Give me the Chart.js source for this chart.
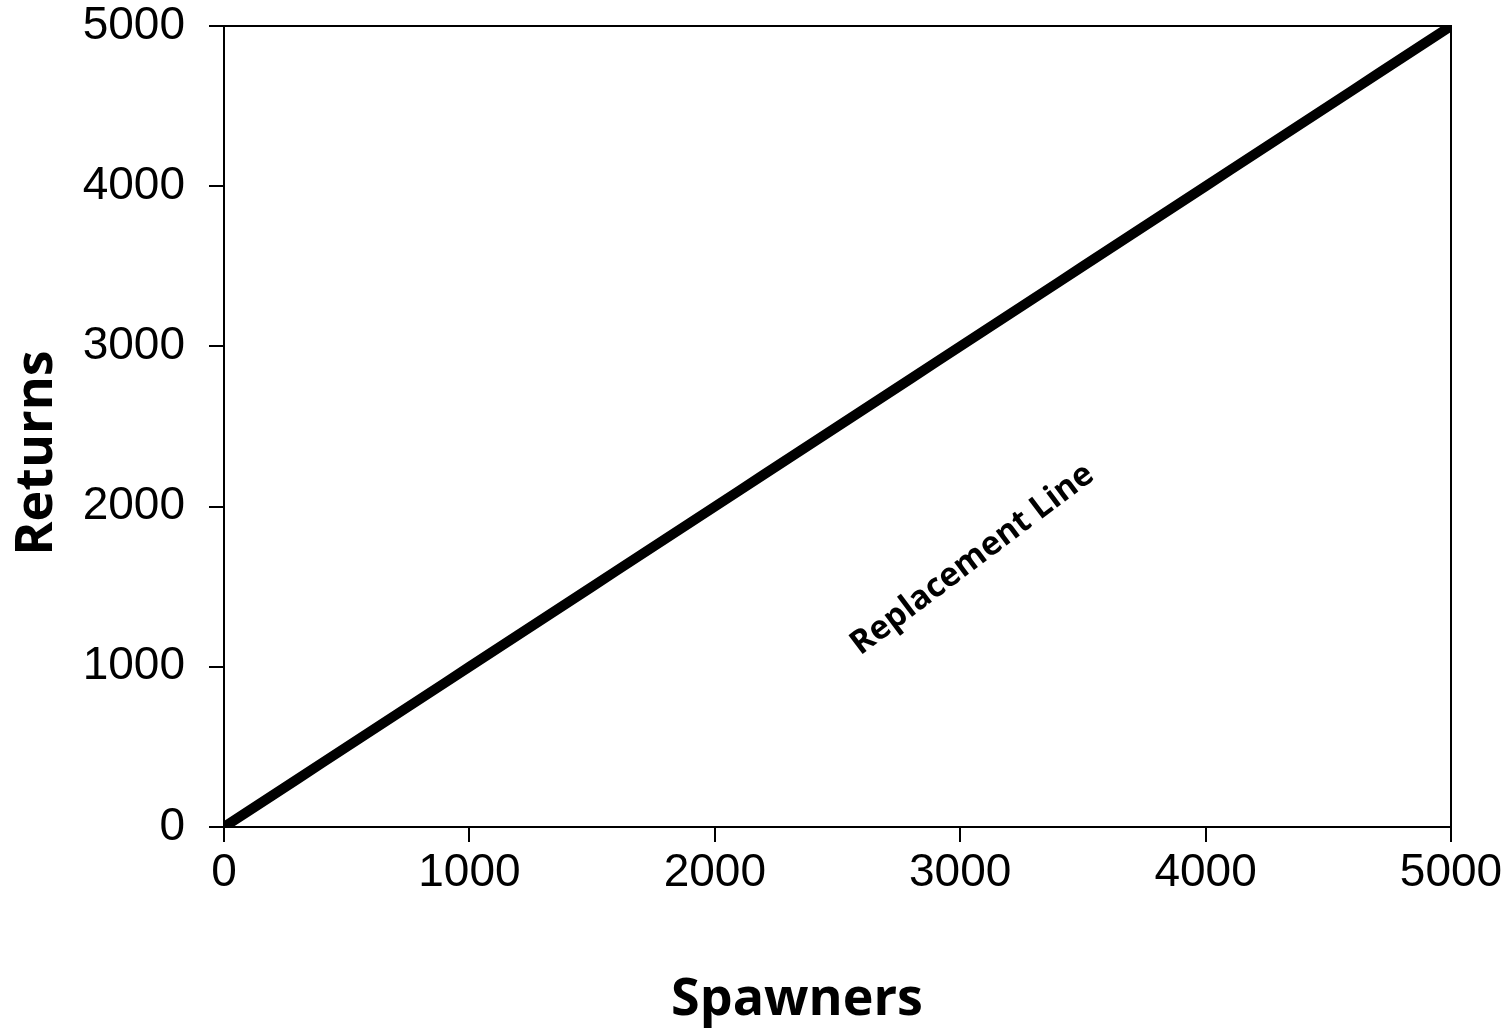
<!DOCTYPE html>
<html>
<head>
<meta charset="utf-8">
<script src="https://cdn.jsdelivr.net/npm/chart.js@4/dist/chart.umd.min.js"></script>
<style>
  html, body { margin: 0; padding: 0; background: #fff; }
  #wrap { width: 1510px; height: 1029px; }
</style>
</head>
<body>
<div id="wrap"><canvas id="c" width="1510" height="1029"></canvas></div>
<script>
const spawners = [0,100,200,300,400,500,600,700,800,900,1000,1100,1200,1300,1400,1500,1600,1700,1800,1900,2000,2100,2200,2300,2400,2500,2600,2700,2800,2900,3000,3100,3200,3300,3400,3500,3600,3700,3800,3900,4000,4100,4200,4300,4400,4500,4600,4700,4800,4900,5000];
const returns  = [0,100,200,300,400,500,600,700,800,900,1000,1100,1200,1300,1400,1500,1600,1700,1800,1900,2000,2100,2200,2300,2400,2500,2600,2700,2800,2900,3000,3100,3200,3300,3400,3500,3600,3700,3800,3900,4000,4100,4200,4300,4400,4500,4600,4700,4800,4900,5000];
const xTitle = "Spawners";
const yTitle = "Returns";
const lineLabel = "Replacement Line";
const labelAt = { x: 3050, y: 1670 };
const axisMin = 0, axisMax = 5000, axisStep = 1000;

const tickFont = { family: "'Liberation Sans', Arial, sans-serif", size: 46 };
const boldFamily = "'Open Sans', 'Noto Sans', sans-serif";
const plainTick = v => String(v);

const extras = {
  id: 'extras',
  afterDatasetsDraw(chart) {
    const { ctx, chartArea: a, scales } = chart;
    ctx.save();
    ctx.strokeStyle = '#000';
    ctx.lineWidth = 2;
    ctx.beginPath();
    ctx.moveTo(a.left, a.top);
    ctx.lineTo(a.right, a.top);
    ctx.lineTo(a.right, a.bottom);
    ctx.stroke();
    const px = scales.x.getPixelForValue(labelAt.x);
    const py = scales.y.getPixelForValue(labelAt.y);
    ctx.translate(px, py);
    ctx.rotate(-37 * Math.PI / 180);
    ctx.fillStyle = '#000';
    ctx.font = "bold 33px " + boldFamily;
    ctx.textAlign = 'center';
    ctx.textBaseline = 'middle';
    ctx.fillText(lineLabel, 0, 0);
    ctx.restore();
    ctx.save();
    ctx.fillStyle = '#000';
    ctx.font = "bold 52px " + boldFamily;
    ctx.textAlign = 'center';
    ctx.textBaseline = 'middle';
    ctx.fillText(xTitle, 797, 1000);
    ctx.translate(37, 453);
    ctx.rotate(-Math.PI / 2);
    ctx.fillText(yTitle, 0, 0);
    ctx.restore();
  }
};

new Chart(document.getElementById('c'), {
  type: 'line',
  data: {
    datasets: [{
      data: spawners.map((s, i) => ({ x: s, y: returns[i] })),
      borderColor: '#000',
      borderWidth: 10,
      pointRadius: 0,
      tension: 0,
      fill: false,
      borderJoinStyle: 'round',
      borderCapStyle: 'round'
    }]
  },
  options: {
    responsive: false,
    animation: false,
    devicePixelRatio: 1,
    layout: { padding: { left: 0, top: 26, right: 59, bottom: 0 } },
    plugins: { legend: { display: false }, tooltip: { enabled: false } },
    scales: {
      x: {
        type: 'linear', min: axisMin, max: axisMax,
        ticks: { stepSize: axisStep, color: '#000', font: tickFont, padding: 4, maxRotation: 0, callback: plainTick },
        grid: { drawOnChartArea: false, tickLength: 15, color: '#000', lineWidth: 2 },
        border: { color: '#000', width: 2 },
        afterFit(s) { s.height = 202; s.paddingLeft = 0; s.paddingRight = 0; }
      },
      y: {
        type: 'linear', min: axisMin, max: axisMax,
        ticks: { stepSize: axisStep, color: '#000', font: tickFont, padding: 24, callback: plainTick },
        grid: { drawOnChartArea: false, tickLength: 15, color: '#000', lineWidth: 2 },
        border: { color: '#000', width: 2 },
        afterFit(s) { s.width = 224; s.paddingTop = 0; s.paddingBottom = 0; }
      }
    }
  },
  plugins: [extras]
});
</script>
</body>
</html>
